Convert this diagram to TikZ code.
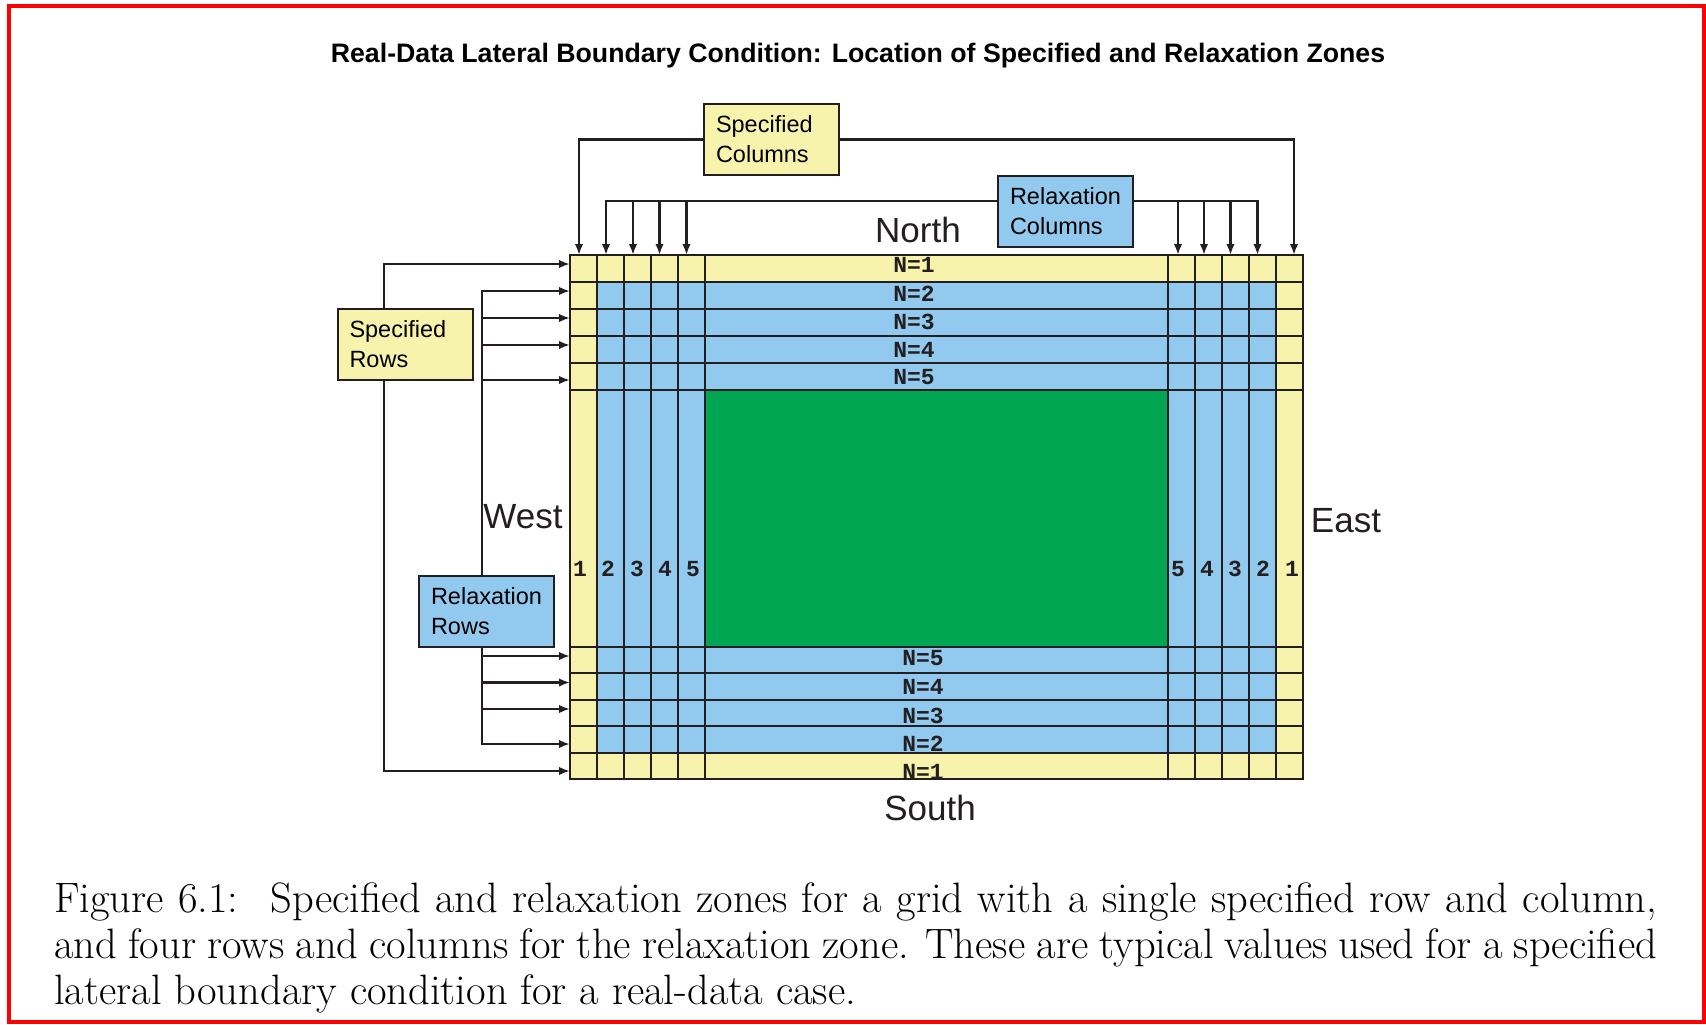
\documentclass[tikz,border=0pt]{standalone}
\usepackage{fontspec}
\setmainfont{Latin Modern Roman}
\setsansfont{Liberation Sans}
\setmonofont{Liberation Mono}
\usetikzlibrary{arrows.meta}
\definecolor{yel}{HTML}{F7F3AD}
\definecolor{blu}{HTML}{92C9EE}
\definecolor{grn}{HTML}{00A651}
\definecolor{ink}{HTML}{231F20}
\definecolor{frame}{HTML}{FF0000}
\begin{document}
\begin{tikzpicture}[x=1pt,y=-1pt,
  wire/.style={draw=ink,line width=2.2pt},
  arr/.style={wire,-{Latex[length=11pt,width=8.5pt]}},
  gridline/.style={draw=ink,line width=2pt},
  zonebox/.style={draw=ink,line width=2pt,text width=111pt,inner xsep=12pt,
     minimum height=71pt,align=left,font=\sffamily\fontsize{23.5}{30}\selectfont},
  cell/.style={font=\ttfamily\bfseries\fontsize{23}{23}\selectfont,inner sep=0pt,anchor=base,text=ink},
  compass/.style={font=\sffamily\fontsize{35}{35}\selectfont,inner sep=0pt,anchor=base,text=ink},
  capt/.style={font=\rmfamily\fontsize{42.5}{46}\selectfont,inner sep=0pt,anchor=base west}
]
\useasboundingbox (0,0) rectangle (1706,1025);
\fill[white] (0,0) rectangle (1706,1025);
\draw[frame,line width=4pt] (9,6) rectangle (1703.5,1022);

% title
\node[font=\sffamily\bfseries\fontsize{26.7}{26.7}\selectfont,anchor=base,inner sep=0pt] (title) at (858,63)
  {Real-Data Lateral Boundary Condition: Location of Specified and Relaxation Zones};

% arrow targets on the grid
\coordinate (t1) at (579,255);
\coordinate (t2) at (606,255);
\coordinate (t3) at (633,255);
\coordinate (t4) at (659.5,255);
\coordinate (t5) at (686.5,255);
\coordinate (u5) at (1178,255);
\coordinate (u4) at (1204,255);
\coordinate (u3) at (1230.5,255);
\coordinate (u2) at (1257.5,255);
\coordinate (u1) at (1294,255);
\coordinate (l1) at (570,264);
\coordinate (l2) at (570,291);
\coordinate (l3) at (570,318);
\coordinate (l4) at (570,345);
\coordinate (l5) at (570,380);
\coordinate (m5) at (570,656);
\coordinate (m4) at (570,682.5);
\coordinate (m3) at (570,709);
\coordinate (m2) at (570,744);
\coordinate (m1) at (570,771);
\coordinate (ry) at (0,201);
\coordinate (sx) at (384,0);
\coordinate (rx) at (482,0);

% boxes
\path (771.5,139.5) node[zonebox,fill=yel] (sc) {Specified\\Columns};
\path (1065.5,211) node[zonebox,fill=blu] (rc) {Relaxation\\Columns};
\path (405,344) node[zonebox,fill=yel] (sr) {Specified\\Rows};
\path (486.5,611) node[zonebox,fill=blu] (rr) {Relaxation\\Rows};

% connectors
\draw[arr] (sc.west) -| (t1);
\draw[arr] (sc.east) -| (u1);
\draw[arr] (rc.west |- ry) -| (t2);
\draw[arr] (rc.east |- ry) -| (u2);
\foreach \c in {t3,t4,t5,u5,u4,u3} \draw[arr] (\c |- ry) -- (\c);
\draw[arr] (sx |- sr.north) |- (l1);
\draw[arr] (sx |- sr.south) |- (m1);
\draw[arr] (rx |- rr.north) |- (l2);
\draw[arr] (rx |- rr.south) |- (m2);
\foreach \c in {l3,l4,l5,m5,m4,m3} \draw[arr] (rx |- \c) -- (\c);

% grid
\fill[yel] (570,255) rectangle (1303,779);
\fill[blu] (597,282) rectangle (1276,752.6);
\fill[grn] (705,390) rectangle (1168,647);
\foreach \x in {597,624,651,678,705,1168,1195,1222,1249,1276}
  \draw[gridline] (\x,255) -- (\x,779);
\foreach \y in {282,309,336,363,390,647,673.4,699.8,726.2,752.6}
  \draw[gridline] (570,\y) -- (1303,\y);
\draw[gridline] (570,255) rectangle (1303,779);

% row labels
\node[cell] (nt1) at (914,272) {N=1};
\node[cell] (nt2) at (914,301.5) {N=2};
\node[cell] (nt3) at (914,329.5) {N=3};
\node[cell] (nt4) at (914,357) {N=4};
\node[cell] (nt5) at (914,384.5) {N=5};
\node[cell] (nb5) at (923,665.5) {N=5};
\node[cell] (nb4) at (923,694) {N=4};
\node[cell] (nb3) at (923,723) {N=3};
\node[cell] (nb2) at (923,751) {N=2};
\node[cell] (nb1) at (923,779.5) {N=1};

% column labels
\node[cell] (cw1) at (580,576.5) {1};
\node[cell] (cw2) at (608,576.5) {2};
\node[cell] (cw3) at (637,576.5) {3};
\node[cell] (cw4) at (665,576.5) {4};
\node[cell] (cw5) at (693,576.5) {5};
\node[cell] (ce5) at (1178,576.5) {5};
\node[cell] (ce4) at (1207,576.5) {4};
\node[cell] (ce3) at (1235,576.5) {3};
\node[cell] (ce2) at (1263,576.5) {2};
\node[cell] (ce1) at (1292,576.5) {1};

% compass labels
\node[compass] (north) at (918,242) {North};
\node[compass] (south) at (930,820) {South};
\node[compass] (west) at (523,528) {West};
\node[compass] (east) at (1346,532) {East};

% caption
\node[capt] (cap1) at (54,912) {\makebox[1603pt][s]{Figure 6.1:\hspace{12pt} Specified and relaxation zones for a grid with a single specified row and column,}};
\node[capt] (cap2) at (54,958) {\makebox[1603pt][s]{and four rows and columns for the relaxation zone. These are typical values used for a specified}};
\node[capt] (cap3) at (54,1004) {lateral boundary condition for a real-data case.};
\end{tikzpicture}
\end{document}
